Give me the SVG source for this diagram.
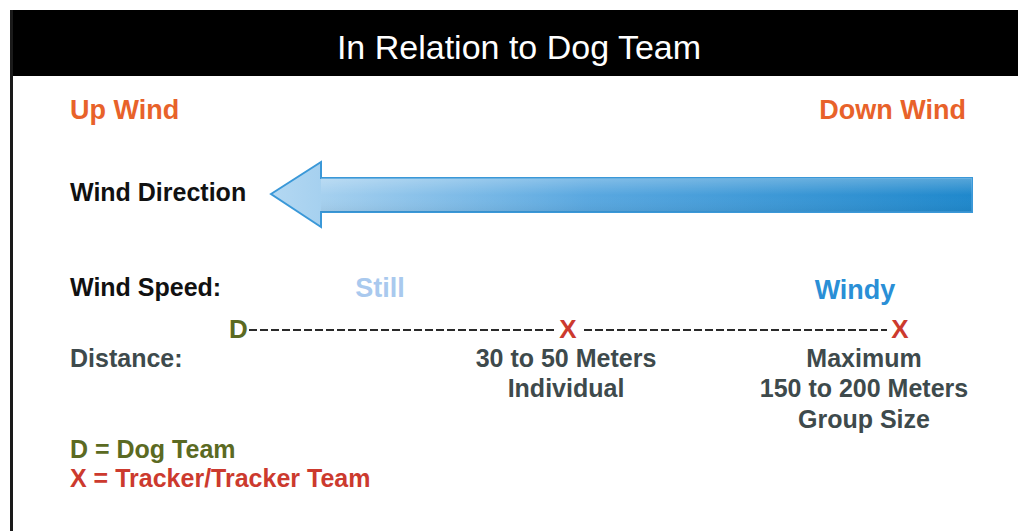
<svg xmlns="http://www.w3.org/2000/svg" width="1018" height="531" viewBox="0 0 1018 531">
<defs>
<linearGradient id="shaft" x1="0" y1="0" x2="1" y2="0">
<stop offset="0" stop-color="#b4d8f2"/>
<stop offset="0.45" stop-color="#5aa8e0"/>
<stop offset="1" stop-color="#1f88cc"/>
</linearGradient>
<linearGradient id="shaftV" x1="0" y1="0" x2="0" y2="1">
<stop offset="0" stop-color="#ffffff" stop-opacity="0.25"/>
<stop offset="0.5" stop-color="#ffffff" stop-opacity="0"/>
<stop offset="1" stop-color="#000000" stop-opacity="0.05"/>
</linearGradient>
<style>
text{font-family:"Liberation Sans",Arial,sans-serif;font-weight:bold}
.title{fill:#ffffff;font-weight:normal;font-size:34px}
.wind{fill:#e8622a;font-size:27px}
.lbl{fill:#111111;font-size:25px}
.dist{fill:#3e4a4c;font-size:25px}
.d{fill:#5b6a22}
.x{fill:#cc3a2e}
.dash{stroke:#2a2a2a;stroke-width:1.8;stroke-dasharray:8 3;fill:none}
</style>
</defs>
<rect x="0" y="0" width="1018" height="531" fill="#ffffff"/>
<g id="frame">
<rect x="10" y="10" width="1008" height="66" fill="#000000"/>
<rect x="10" y="10" width="3" height="521" fill="#1a1a1a"/>
</g>
<g id="title"><text class="title" x="519" y="59" text-anchor="middle">In Relation to Dog Team</text></g>
<g id="upwind"><text class="wind" x="70" y="119">Up Wind</text></g>
<g id="downwind"><text class="wind" x="966" y="119" text-anchor="end">Down Wind</text></g>
<g id="winddirection"><text class="lbl" x="70" y="201">Wind Direction</text></g>
<g id="arrow">
<path d="M271,194 L321,162 L321,178 L972,178 L972,212 L321,212 L321,227 Z" fill="url(#shaft)" stroke="#3a98d8" stroke-width="2" stroke-linejoin="miter"/>
<path d="M321,178 L972,178 L972,212 L321,212 Z" fill="url(#shaftV)"/>
</g>
<g id="windspeed"><text class="lbl" x="70" y="296">Wind Speed:</text></g>
<g id="still"><text x="380" y="297" text-anchor="middle" font-size="27" fill="#a9c9ee">Still</text></g>
<g id="windy"><text x="855" y="299" text-anchor="middle" font-size="27" fill="#2a8fd6">Windy</text></g>
<g id="dog"><text class="d" x="229" y="338" font-size="26">D</text></g>
<g id="tracker1"><text class="x" x="568" y="338" font-size="26" text-anchor="middle">X</text></g>
<g id="tracker2"><text class="x" x="900" y="338" font-size="26" text-anchor="middle">X</text></g>
<g id="connectors">
<line class="dash" x1="249" y1="330" x2="556" y2="330"/>
<line class="dash" x1="584" y1="330" x2="887" y2="330"/>
</g>
<g id="distance"><text class="dist" x="70" y="367">Distance:</text></g>
<g id="individual">
<text class="dist" x="566" y="367" text-anchor="middle">30 to 50 Meters</text>
<text class="dist" x="566" y="397" text-anchor="middle">Individual</text>
</g>
<g id="group">
<text class="dist" x="864" y="367" text-anchor="middle">Maximum</text>
<text class="dist" x="864" y="397" text-anchor="middle">150 to 200 Meters</text>
<text class="dist" x="864" y="428" text-anchor="middle">Group Size</text>
</g>
<g id="legend">
<text class="d" x="70" y="458" font-size="25">D = Dog Team</text>
<text class="x" x="70" y="487" font-size="25">X = Tracker/Tracker Team</text>
</g>
</svg>
